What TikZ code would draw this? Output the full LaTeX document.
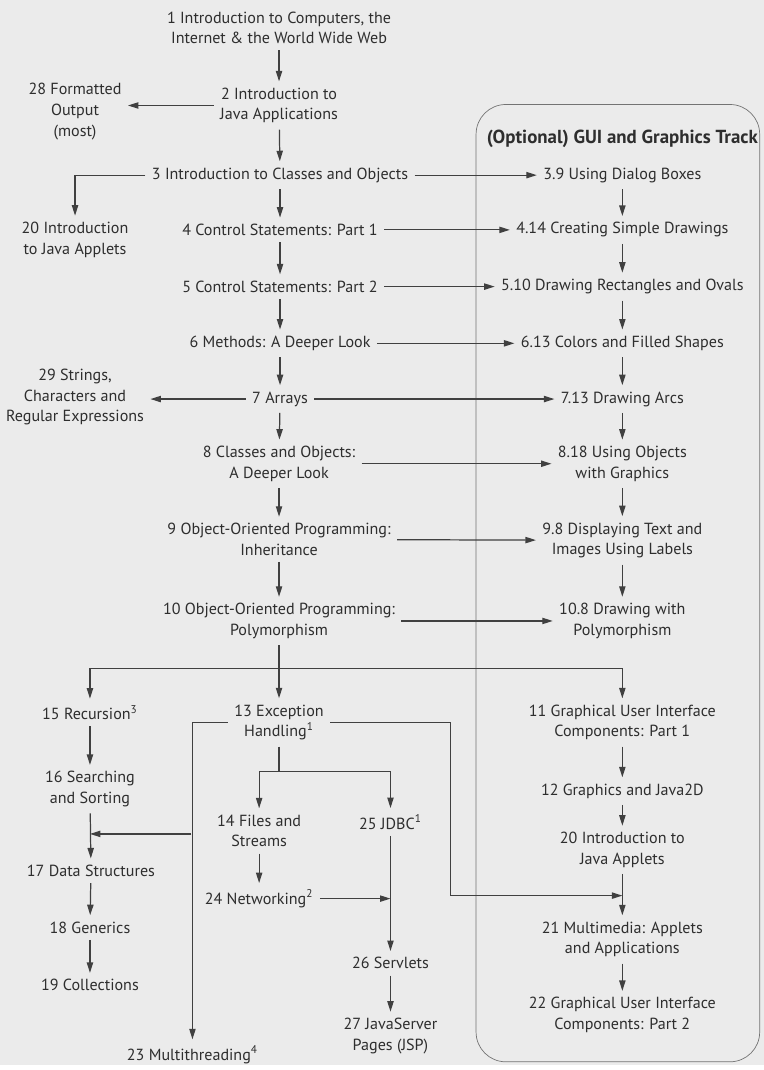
\documentclass[tikz,border=0pt]{standalone}
\usepackage{fontspec}
\setmainfont{PT Sans}
\usetikzlibrary{arrows.meta}
\newcommand{\chfont}{\fontsize{9.2}{11.8}\selectfont}
\begin{document}
\begin{tikzpicture}[x=0.02cm,y=-0.02cm,
  ch/.style={align=center,inner sep=3.5pt,text=black!82,font=\chfont},
  arr/.style={draw=black!75,line width=0.7pt,-{Triangle[length=6pt,width=3.6pt]}},
  ln/.style={draw=black!75,line width=0.7pt}]
  \fill[black!8] (0,0) rectangle (767,1070);
  \draw[black!55,line width=0.4pt,rounded corners=17pt] (478,105) rectangle (763,1067);
  \node[ch,font=\fontsize{10.8}{13}\selectfont\bfseries] (gtitle) at (625,140) {(Optional) GUI and Graphics Track};

  \node[ch] (c1) at (280,28) {1 Introduction to Computers, the\\Internet \& the World Wide Web};
  \node[ch] (c2) at (280,106) {2 Introduction to\\Java Applications};
  \node[ch] (c28) at (75,112) {28 Formatted\\Output\\(most)};
  \node[ch] (c3) at (281,176) {3 Introduction to Classes and Objects};
  \node[ch] (c20a) at (75,241) {20 Introduction\\to Java Applets};
  \node[ch] (c4) at (281,231) {4 Control Statements: Part 1};
  \node[ch] (c5) at (281,288) {5 Control Statements: Part 2};
  \node[ch] (c6) at (281,345) {6 Methods: A Deeper Look};
  \node[ch] (c7) at (281,401) {7 Arrays};
  \node[ch] (c29) at (75,399) {29 Strings,\\Characters and\\Regular Expressions};
  \node[ch] (c8) at (280,466) {8 Classes and Objects:\\A Deeper Look};
  \node[ch] (c9) at (280,542) {9 Object-Oriented Programming:\\Inheritance};
  \node[ch] (c10) at (280,624) {10 Object-Oriented Programming:\\Polymorphism};
  \node[ch] (c15) at (90,716) {15 Recursion\textsuperscript{3}};
  \node[ch] (c13) at (280,726) {13 Exception\\Handling\textsuperscript{1}};
  \node[ch] (c16) at (90,793) {16 Searching\\and Sorting};
  \node[ch] (c17) at (91,875) {17 Data Structures};
  \node[ch] (c18) at (90,932) {18 Generics};
  \node[ch] (c19) at (90,990) {19 Collections};
  \node[ch] (c14) at (260,835) {14 Files and\\Streams};
  \node[ch] (c25) at (392,826) {25 JDBC\textsuperscript{1}};
  \node[ch] (c24) at (260,903) {24 Networking\textsuperscript{2}};
  \node[ch] (c26) at (392,968) {26 Servlets};
  \node[ch] (c27) at (392,1041) {27 JavaServer\\Pages (JSP)};
  \node[ch] (c23) at (193,1060) {23 Multithreading\textsuperscript{4}};

  \node[ch] (g39) at (625,176) {3.9 Using Dialog Boxes};
  \node[ch] (g414) at (625,231) {4.14 Creating Simple Drawings};
  \node[ch] (g510) at (625,288) {5.10 Drawing Rectangles and Ovals};
  \node[ch] (g613) at (625,345) {6.13 Colors and Filled Shapes};
  \node[ch] (g713) at (625,401) {7.13 Drawing Arcs};
  \node[ch] (g818) at (625,466) {8.18 Using Objects\\with Graphics};
  \node[ch] (g98) at (625,543) {9.8 Displaying Text and\\Images Using Labels};
  \node[ch] (g108) at (625,624) {10.8 Drawing with\\Polymorphism};
  \node[ch] (g11) at (625,726) {11 Graphical User Interface\\Components: Part 1};
  \node[ch] (g12) at (625,795) {12 Graphics and Java2D};
  \node[ch] (g20) at (625,854) {20 Introduction to\\Java Applets};
  \node[ch] (g21) at (625,944) {21 Multimedia: Applets\\and Applications};
  \node[ch] (g22) at (625,1020) {22 Graphical User Interface\\Components: Part 2};

  \coordinate (j10) at (280,672);
  \coordinate (j13) at (280,775);
  \coordinate (b13) at (192,838);
  \coordinate (r13) at (452,900);

  \draw[arr] (c1) -- (c2);
  \draw[arr] (c2) -- (c2 -| c28.east);
  \draw[arr] (c2) -- (c3);
  \draw[arr] (c3.west) -| (c20a.north);
  \draw[arr] (c3) -- (g39);
  \draw[arr] (c3) -- (c4);
  \draw[arr] (c4) -- (g414);
  \draw[arr] (c4) -- (c5);
  \draw[arr] (c5) -- (g510);
  \draw[arr] (c5) -- (c6);
  \draw[arr] (c6) -- (g613);
  \draw[arr] (c6) -- (c7);
  \draw[arr] (c7) -- (c7 -| c29.east);
  \draw[arr] (c7) -- (g713);
  \draw[arr] (c7) -- (c8);
  \draw[arr] (c8) -- (g818);
  \draw[arr] (c8) -- (c9);
  \draw[arr] (c9) -- (g98);
  \draw[arr] (c9) -- (c10);
  \draw[arr] (c10) -- (g108);
  \draw[ln] (c10) -- (j10);
  \draw[arr] (j10) -| (c15);
  \draw[arr] (j10) -- (c13);
  \draw[arr] (j10) -| (g11);
  \draw[arr] (c15) -- (c16);
  \draw[arr] (c16) -- (c17);
  \draw[arr] (c17) -- (c18);
  \draw[arr] (c18) -- (c19);
  \draw[arr] (c13.west) -| (c23.north);
  \draw[arr] (b13) -- (b13 -| c16);
  \draw[ln] (c13) -- (j13);
  \draw[arr] (j13) -| (c14);
  \draw[arr] (j13) -| (c25);
  \draw[arr] (c14) -- (c24);
  \draw[arr] (c24) -- (c24 -| c25);
  \draw[arr] (c25) -- (c26);
  \draw[arr] (c26) -- (c27);
  \draw[arr] (c13.east) -| (r13) -- (r13 -| g20);

  \draw[arr] (g39) -- (g414);
  \draw[arr] (g414) -- (g510);
  \draw[arr] (g510) -- (g613);
  \draw[arr] (g613) -- (g713);
  \draw[arr] (g713) -- (g818);
  \draw[arr] (g818) -- (g98);
  \draw[arr] (g98) -- (g108);
  \draw[arr] (g11) -- (g12);
  \draw[arr] (g12) -- (g20);
  \draw[arr] (g20) -- (g21);
  \draw[arr] (g21) -- (g22);
\end{tikzpicture}
\end{document}
